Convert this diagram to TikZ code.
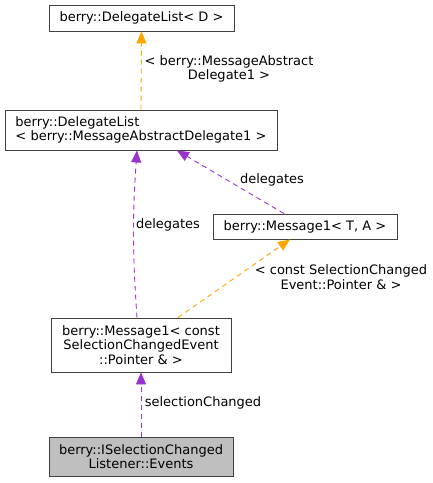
\documentclass[tikz,border=0pt]{standalone}
\usepackage{fontspec}
\setmainfont{DejaVu Sans}
\usetikzlibrary{arrows.meta}
\definecolor{edgeorange}{HTML}{FFA500}
\definecolor{edgepurple}{HTML}{9A32CD}
\definecolor{boxborder}{HTML}{404040}
\definecolor{boxgray}{HTML}{BFBFBF}
\begin{document}
\begin{tikzpicture}[x=1pt,y=-1pt,
  every node/.style={font=\fontsize{13}{14.3}\selectfont, inner sep=0pt},
  cls/.style={draw=boxborder, line width=0.9pt, fill=white, align=center},
  lbl/.style={align=center},
  rel/.style={dash pattern=on 5pt off 4pt, line width=0.9pt},
  tmpl/.style={rel, draw=edgeorange, -{Triangle[length=12pt,width=10pt,fill=edgeorange]}},
  use/.style={rel, draw=edgepurple, -{Triangle[length=12pt,width=10pt,fill=edgepurple]}}]
\useasboundingbox (0,0) rectangle (433,483);
\node[cls, minimum width=185pt, minimum height=26pt] (dl) at (141.5,18) {berry::DelegateList< D >};
\node[cls, minimum width=272pt, minimum height=40pt, align=left] (dlm) at (141,130) {berry::DelegateList\\< berry::MessageAbstractDelegate1 >};
\node[cls, minimum width=184pt, minimum height=25pt] (m1) at (305,226.5) {berry::Message1< T, A >};
\node[cls, minimum width=180pt, minimum height=54pt] (m1c) at (141,345) {berry::Message1< const\\SelectionChangedEvent\\::Pointer \& >};
\node[cls, fill=boxgray, minimum width=184pt, minimum height=39pt] (ev) at (141,456.5) {berry::ISelectionChanged\\Listener::Events};

\draw[tmpl] (dlm.north) -- (dl.south);
\node[lbl] (l1) at (229,69) {< berry::MessageAbstract\\Delegate1 >};

\draw[use] ([xshift=-4pt]m1c.north) to[bend left=4] ([xshift=-4pt]dlm.south);
\node[lbl] (l2) at (168,225) {delegates};

\draw[use] ([xshift=-21pt]m1.north) -- ([xshift=36pt]dlm.south);
\node[lbl] (l3) at (272,180) {delegates};

\draw[tmpl] ([xshift=37pt]m1c.north) -- ([xshift=-15pt]m1.south);
\node[lbl] (l4) at (341,277) {< const SelectionChanged\\Event::Pointer \& >};

\draw[use] (ev.north) -- (m1c.south);
\node[lbl] (l5) at (203,403) {selectionChanged};
\end{tikzpicture}
\end{document}
